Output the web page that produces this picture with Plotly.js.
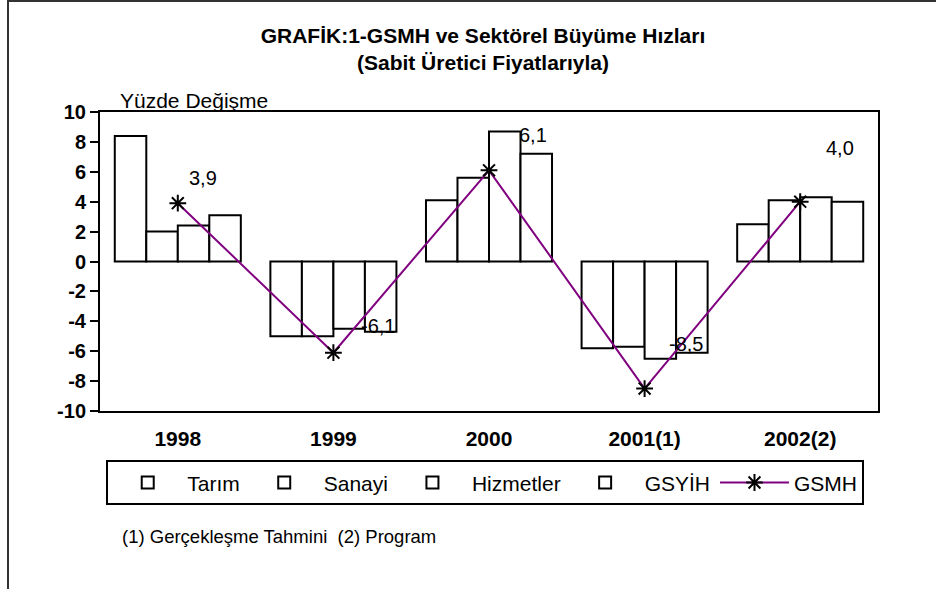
<!DOCTYPE html>
<html>
<head>
<meta charset="utf-8">
<script src="https://cdn.plot.ly/plotly-3.0.1.min.js"></script>
<style>
  html, body { margin: 0; padding: 0; background: #fff; }
  #wrap { position: relative; width: 936px; height: 589px; }
  #chart { width: 936px; height: 589px; }
  #frame { position: absolute; left: 7px; top: 0; width: 929px; height: 589px;
           border-top: 2px solid #333; border-left: 2px solid #333; box-sizing: border-box; pointer-events: none; }
</style>
</head>
<body>
<div id="wrap">
  <div id="chart"></div>
  <div id="frame"></div>
</div>
<script>
// ---- data ----
const categories = ['1998', '1999', '2000', '2001(1)', '2002(2)'];
const tarim     = [8.4, -5.0, 4.1, -5.8, 2.5];
const sanayi    = [2.0, -5.0, 5.6, -5.7, 4.1];
const hizmetler = [2.4, -4.5, 8.7, -6.5, 4.3];
const gsyih     = [3.1, -4.7, 7.2, -6.1, 4.0];
const gsmh      = [3.9, -6.1, 6.1, -8.5, 4.0];
const seriesNames = ['Tarım', 'Sanayi', 'Hizmetler', 'GSYİH', 'GSMH'];
const yTickValues = [-10, -8, -6, -4, -2, 0, 2, 4, 6, 8, 10];

// label placement offsets (px) for GSMH data labels
const labelShiftX = [25, 45, 44, 41, 40];
const labelShiftY = [25, 27, 35, 45, 54];

const FONT = 'Liberation Sans, Arial, sans-serif';

function barTrace(name, vals) {
  return {
    type: 'bar', name: name, x: categories, y: vals,
    marker: { color: '#ffffff', line: { color: '#000000', width: 2 } },
    hoverinfo: 'skip'
  };
}

const traces = [
  barTrace(seriesNames[0], tarim),
  barTrace(seriesNames[1], sanayi),
  barTrace(seriesNames[2], hizmetler),
  barTrace(seriesNames[3], gsyih),
  {
    type: 'scatter', mode: 'lines+markers', name: seriesNames[4],
    x: categories, y: gsmh,
    line: { color: '#800080', width: 2 },
    marker: { symbol: 'asterisk-open', size: 14, color: '#000000', line: { color: '#000000', width: 2 } },
    hoverinfo: 'skip'
  }
];

const annotations = gsmh.map((v, i) => ({
  x: i, y: v, xref: 'x', yref: 'y',
  text: v.toFixed(1).replace('.', ','),
  showarrow: false, xshift: labelShiftX[i], yshift: labelShiftY[i],
  font: { family: FONT, size: 20, color: '#000' }
}));
annotations.push({
  xref: 'paper', yref: 'paper', x: 0.023, y: 1.04, xanchor: 'left', yanchor: 'middle',
  text: 'Yüzde Değişme', showarrow: false,
  font: { family: FONT, size: 21, color: '#000' }
});
annotations.push({
  xref: 'paper', yref: 'paper', x: 0.0257, y: -0.421, xanchor: 'left', yanchor: 'middle',
  text: '(1) Gerçekleşme Tahmini  (2) Program', showarrow: false,
  font: { family: FONT, size: 18.5, color: '#000' }
});

const layout = {
  width: 936, height: 589,
  paper_bgcolor: '#ffffff', plot_bgcolor: '#ffffff',
  margin: { l: 100, r: 58, t: 112, b: 178 },
  font: { family: FONT, color: '#000' },
  title: {
    text: 'GRAFİK:1-GSMH ve Sektörel Büyüme Hızları<br>(Sabit Üretici Fiyatlarıyla)',
    font: { family: FONT, size: 21, weight: 'bold', color: '#000' },
    xref: 'container', yref: 'container', x: 483 / 936, xanchor: 'center',
    y: 1 - 43 / 589, yanchor: 'middle'
  },
  barmode: 'group', bargap: 0.19, bargroupgap: 0,
  xaxis: {
    type: 'category', categoryarray: categories, range: [-0.5, 4.5],
    showline: true, mirror: true, linecolor: '#000', linewidth: 2,
    ticks: 'outside', ticklen: 8, tickcolor: 'rgba(0,0,0,0)',
    tickfont: { family: FONT, size: 21, weight: 'bold', color: '#000' },
    showgrid: false, zeroline: false, fixedrange: true
  },
  xaxis2: {
    type: 'linear', overlaying: 'x', anchor: 'free', position: 0.5,
    range: [-0.5, 4.5], tick0: -0.5, dtick: 0.5,
    showline: true, linecolor: '#000', linewidth: 2,
    ticks: 'inside', ticklen: 5, tickwidth: 2, tickcolor: '#000',
    showticklabels: false, showgrid: false, zeroline: false, fixedrange: true
  },
  yaxis: {
    range: [-10, 10], tickmode: 'array', tickvals: yTickValues,
    ticktext: yTickValues.map(v => String(v)),
    showline: true, mirror: true, linecolor: '#000', linewidth: 2,
    ticks: 'outside', ticklen: 8, tickwidth: 2, tickcolor: '#000',
    tickfont: { family: FONT, size: 20, weight: 'bold', color: '#000' },
    showgrid: false, zeroline: false, fixedrange: true
  },
  showlegend: true,
  legend: {
    orientation: 'h', x: 0.008, xanchor: 'left', y: -0.165, yanchor: 'top',
    bordercolor: '#000', borderwidth: 2, bgcolor: '#fff',
    font: { family: FONT, size: 21, color: '#000' },
    itemwidth: 69, traceorder: 'normal'
  },
  annotations: annotations
};

Plotly.newPlot('chart', traces, layout, { staticPlot: true, displayModeBar: false });
</script>
</body>
</html>
